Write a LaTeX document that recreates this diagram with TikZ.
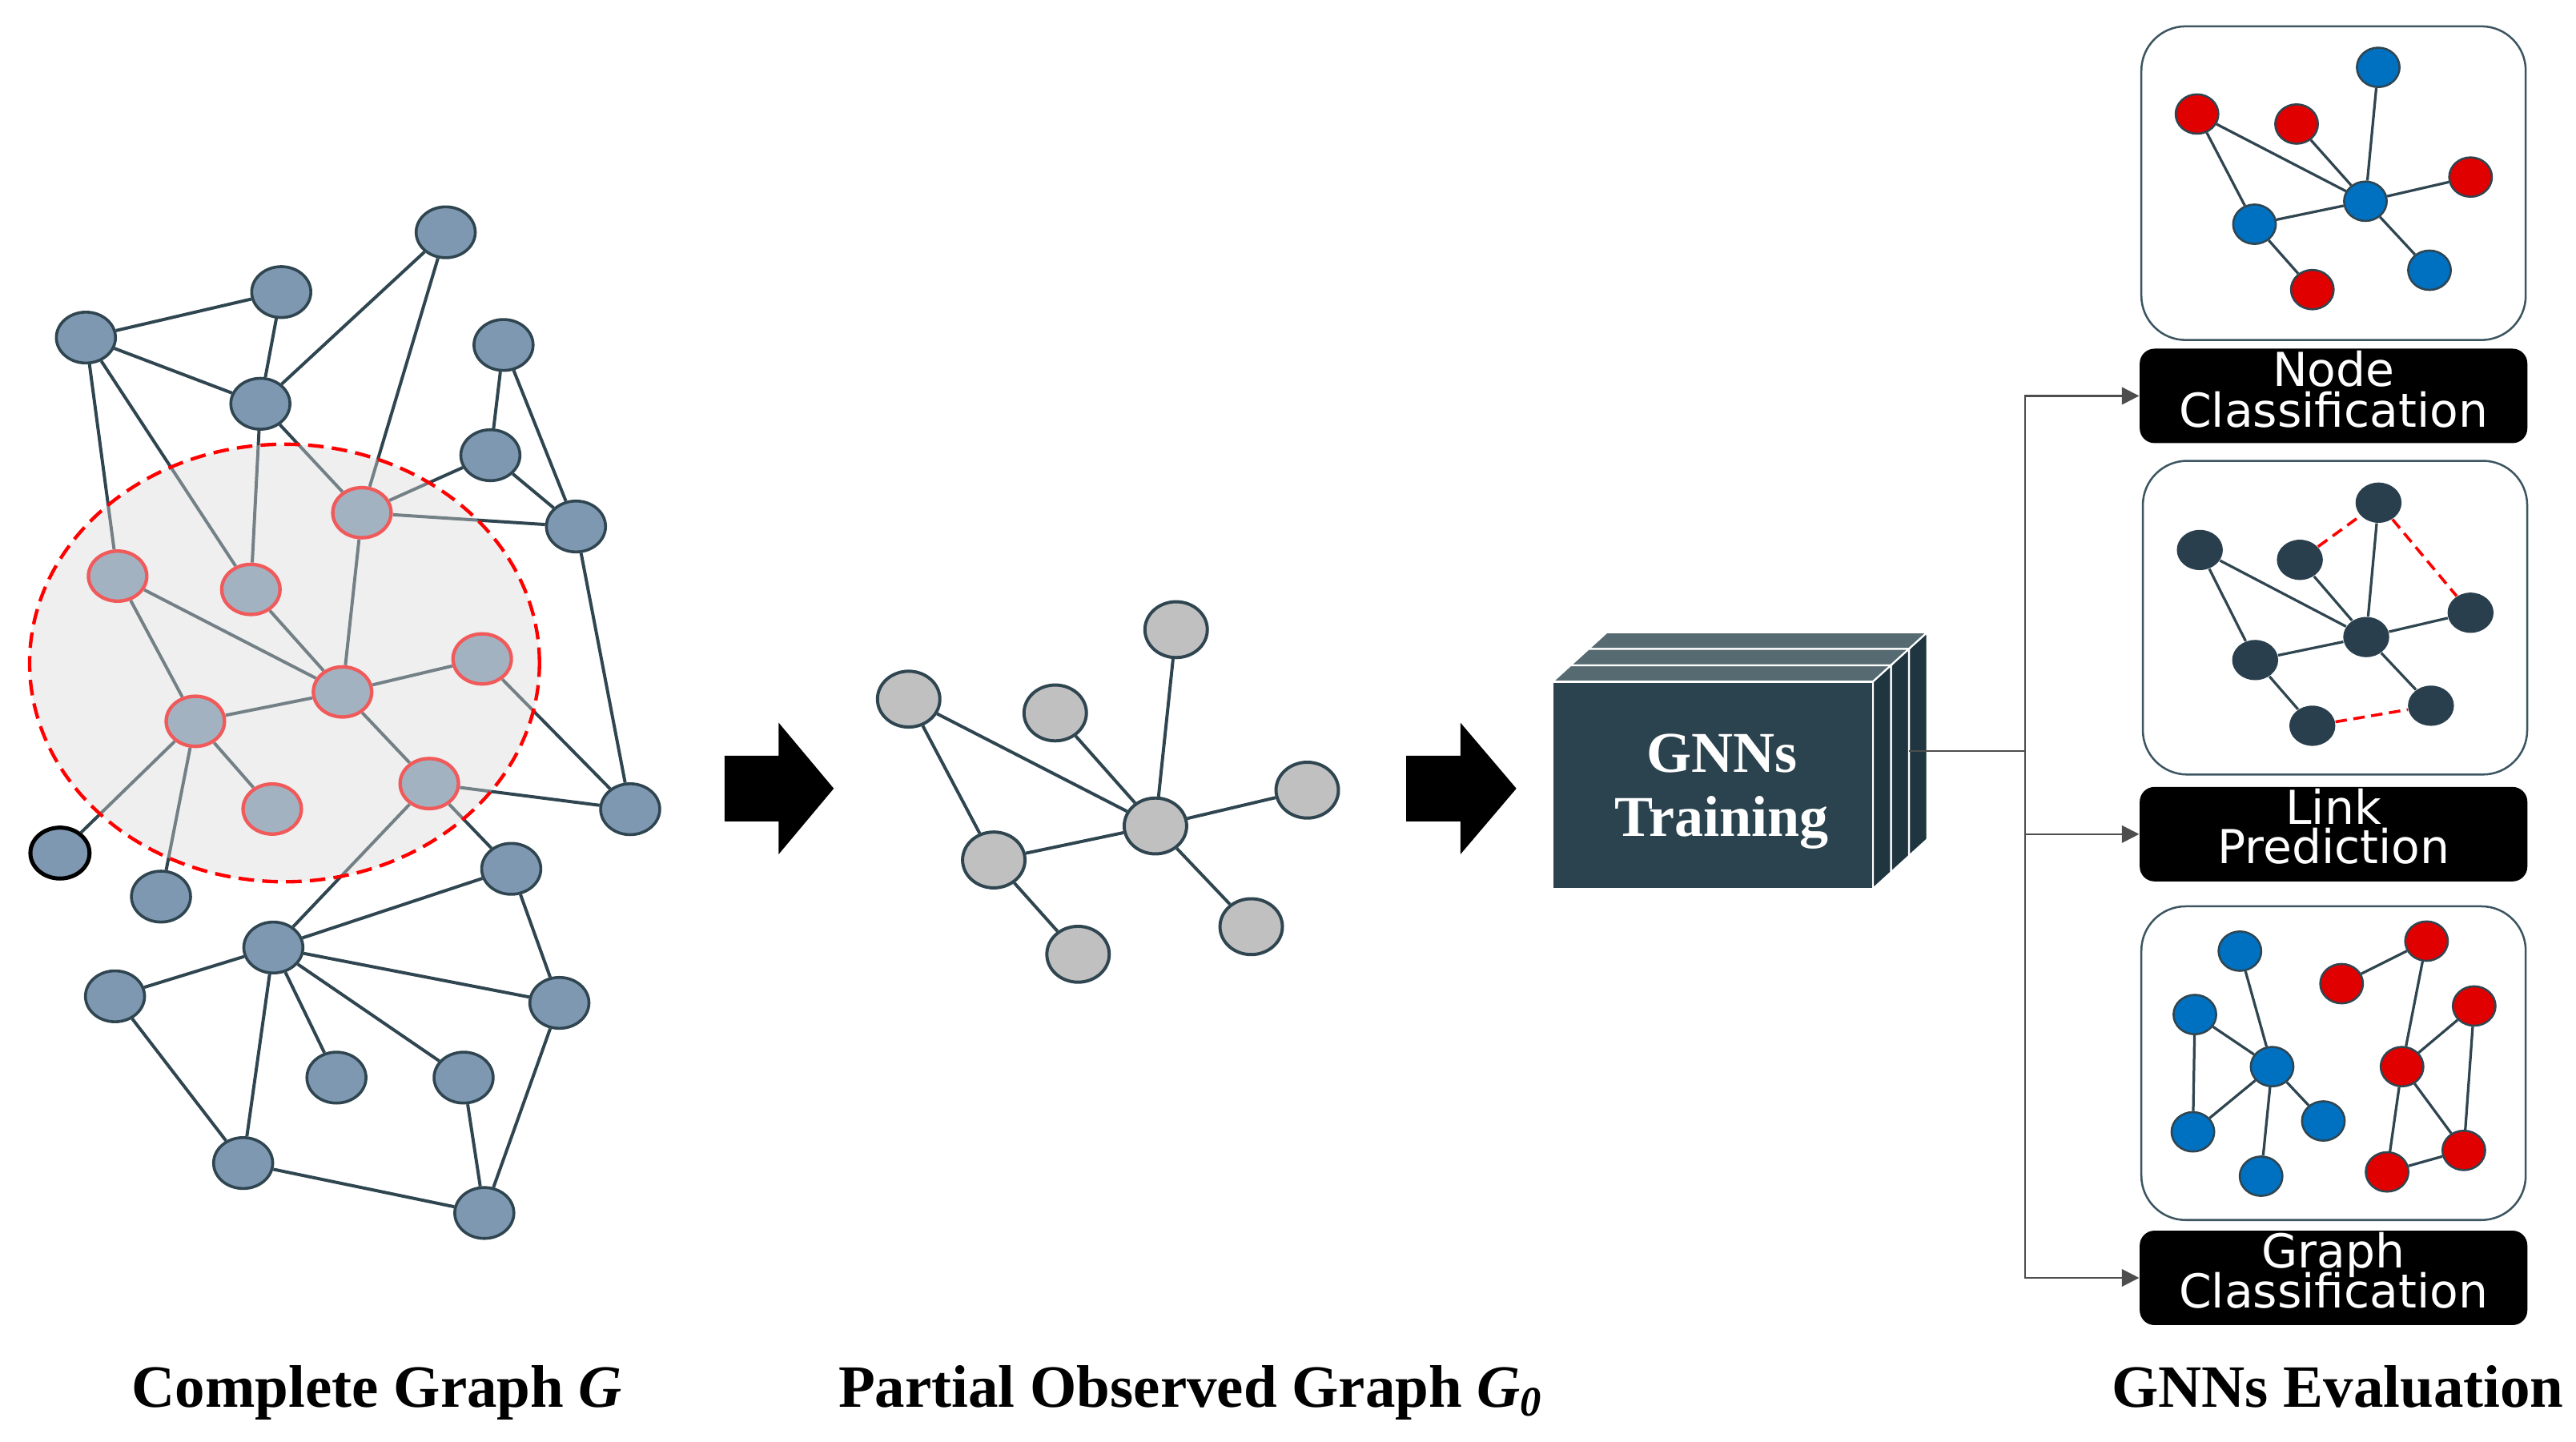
\documentclass[tikz,border=0pt]{standalone}
\usepackage{fontspec}
\setmainfont{Liberation Serif}
\newfontfamily\labfont{DejaVu Sans}
\usetikzlibrary{shapes.geometric,arrows.meta}
\definecolor{cgfill}{HTML}{7F98B2}
\definecolor{cgline}{HTML}{2F4550}
\definecolor{pgfill}{HTML}{C0C0C0}
\definecolor{redn}{HTML}{E00000}
\definecolor{bluen}{HTML}{0070C0}
\definecolor{lpn}{HTML}{2A3F4D}
\definecolor{panelc}{HTML}{3D5561}
\definecolor{ovl}{HTML}{D9D9D9}
\definecolor{ringc}{HTML}{F05A5A}
\definecolor{gfront}{HTML}{2B434E}
\definecolor{gtop}{HTML}{566A72}
\definecolor{gside}{HTML}{1F353F}
\definecolor{connc}{HTML}{4D4D4D}
\begin{document}
\begin{tikzpicture}[x=0.02cm,y=-0.02cm,
  cg/.style={ellipse,minimum width=0.72cm,minimum height=0.62cm,inner sep=0pt,fill=cgfill,draw=cgline,line width=1pt},
  cgin/.style={cg,draw=none},
  cge/.style={draw=cgline,line width=1.1pt},
  redring/.style={draw=ringc,line width=1.2pt},
  reddash/.style={draw=red,line width=1.2pt,dash pattern=on 0.19cm off 0.1cm},
  pg/.style={ellipse,minimum width=0.76cm,minimum height=0.68cm,inner sep=0pt,fill=pgfill,draw=cgline,line width=1.1pt},
  pge/.style={draw=cgline,line width=1.1pt},
  rn/.style={ellipse,minimum width=0.52cm,minimum height=0.48cm,inner sep=0pt,fill=redn,draw=cgline,line width=0.7pt},
  bn/.style={rn,fill=bluen},
  ln/.style={ellipse,minimum width=0.56cm,minimum height=0.49cm,inner sep=0pt,fill=lpn},
  sme/.style={draw=cgline,line width=0.9pt},
  preddash/.style={draw=red,line width=1pt,dash pattern=on 0.14cm off 0.08cm},
  panel/.style={draw=panelc,line width=0.7pt,fill=white,rounded corners=0.54cm,minimum width=4.68cm,minimum height=3.82cm,inner sep=0pt},
  labbox/.style={fill=black,rounded corners=0.18cm,minimum width=4.72cm,minimum height=1.15cm,inner sep=0pt},
  labtext/.style={text=white,anchor=base,inner sep=0pt,font={\labfont\fontsize{16.2pt}{14.2pt}\selectfont}},
  captext/.style={anchor=base west,inner sep=0pt,font={\bfseries\fontsize{20.8pt}{24pt}\selectfont}},
  gnnfront/.style={fill=gfront,draw=white,line width=0.6pt,minimum width=3.9cm,minimum height=2.52cm,inner sep=0pt},
  gnntext/.style={text=white,align=center,inner sep=0pt,font={\bfseries\fontsize{20pt}{22.1pt}\selectfont}},
  conn/.style={draw=connc,line width=0.6pt},
  tip/.style={-{Triangle[length=6pt,width=6pt]}}
]
\useasboundingbox (0,0) rectangle (1568,877.8);
\fill[white] (0,0) rectangle (1568,877.8);

% ---------------- Complete graph G ----------------
\node[cg] (A) at (271.3,141.4) {};
\node[cg] (B) at (171.2,177.8) {};
\node[cg] (C) at (52.3,205.5) {};
\node[cg] (D) at (158.5,245.8) {};
\node[cg] (E) at (306.5,210) {};
\node[cg] (F) at (298.5,277.1) {};
\node[cg] (H) at (350.6,320.5) {};
\node[cgin] (r1) at (220.3,312.1) {};
\node[cgin] (r2) at (71.6,350.7) {};
\node[cgin] (r3) at (152.7,358.8) {};
\node[cgin] (r4) at (208.5,421.2) {};
\node[cgin] (r5) at (293.5,401.1) {};
\node[cgin] (r6) at (118.9,439.1) {};
\node[cgin] (r7) at (165.7,492.5) {};
\node[cgin] (r8) at (261.3,477) {};
\node[cg] (I) at (383.6,492.6) {};
\node[cg,draw=black,line width=1.4pt] (J) at (36.5,519.3) {};
\node[cg] (K) at (98,545.8) {};
\node[cg] (L) at (311.2,528.9) {};
\node[cg] (M) at (166.4,576.8) {};
\node[cg] (N) at (70,606.5) {};
\node[cg] (O) at (340.5,610.5) {};
\node[cg] (P) at (204.8,656) {};
\node[cg] (Q) at (282.2,656) {};
\node[cg] (R) at (148,708) {};
\node[cg] (S) at (294.8,738.4) {};

\foreach \a/\b in {C/B,C/D,C/r2,C/r3,B/D,D/A,A/r1,D/r3,D/r1,E/F,E/H,F/r1,F/H,r1/H,H/I,
  r1/r4,r2/r4,r2/r6,r3/r4,r4/r6,r4/r5,r4/r8,r5/I,r6/r7,r6/J,r6/K,r8/I,r8/L,r8/M,
  L/M,L/O,M/N,M/O,M/P,M/Q,M/R,N/R,R/S,Q/S,O/S}
  \draw[cge] (\a) -- (\b);

\fill[ovl,fill opacity=0.4] (173.2,403.6) ellipse [x radius=3.104cm, y radius=2.664cm];
\foreach \n in {r1,r2,r3,r4,r5,r6,r7,r8}
  \draw[redring] (\n.center) ellipse [x radius=0.355cm, y radius=0.305cm];
\draw[reddash] (173.2,403.6) ellipse [x radius=3.104cm, y radius=2.664cm];

% ---------------- arrows ----------------
\fill[black] (441,460) -- (474,460) -- (474,440) -- (507.5,480) -- (474,520) -- (474,500) -- (441,500) -- cycle;
\fill[black] (856,460) -- (889,460) -- (889,440) -- (923,480) -- (889,520) -- (889,500) -- (856,500) -- cycle;

% ---------------- Partial observed graph ----------------
\node[pg] (p1) at (553.1,425.6) {};
\node[pg] (p2) at (642.3,434) {};
\node[pg] (p3) at (715.9,383.3) {};
\node[pg] (p4) at (795.7,481) {};
\node[pg] (p5) at (703.3,502.8) {};
\node[pg] (p6) at (604.9,523.5) {};
\node[pg] (p7) at (656.2,580.9) {};
\node[pg] (p8) at (761.6,564.1) {};
\foreach \a/\b in {p1/p5,p1/p6,p2/p5,p3/p5,p4/p5,p5/p6,p5/p8,p6/p7}
  \draw[pge] (\a) -- (\b);

% ---------------- GNN training box ----------------
\foreach \i in {2,1} {
  \begin{scope}[shift={(11*\i,-10*\i)}]
    \filldraw[fill=gfront,draw=white,line width=0.6pt] (945,415) rectangle (1140,541);
    \filldraw[fill=gtop,draw=white,line width=0.6pt] (945,415) -- (1140,415) -- (1151,405) -- (956,405) -- cycle;
    \filldraw[fill=gside,draw=white,line width=0.6pt] (1140,415) -- (1151,405) -- (1151,531) -- (1140,541) -- cycle;
  \end{scope}
}
\filldraw[fill=gtop,draw=white,line width=0.6pt] (945,415) -- (1140,415) -- (1151,405) -- (956,405) -- cycle;
\filldraw[fill=gside,draw=white,line width=0.6pt] (1140,415) -- (1151,405) -- (1151,531) -- (1140,541) -- cycle;
\node[gnnfront] (gnn) at (1042.5,478) {};
\node[gnntext] (gnnt) at (1048,481.7) {GNNs\\Training};

% ---------------- Evaluation panels ----------------
\node[panel] (pn1) at (1420.4,111.5) {};
\node[panel] (pn2) at (1421.3,376) {};
\node[panel] (pn3) at (1420.4,647.2) {};

\node[labbox] (nc) at (1420.4,241) {};
\node[labbox] (lp) at (1420.4,507.8) {};
\node[labbox] (gc) at (1420.4,777.9) {};
\node[labtext] (nct1) at (1420.4,235.4) {Node};
\node[labtext] (nct2) at (1420.4,259.8) {Classification};
\node[labtext] (lpt1) at (1420.4,501.8) {Link};
\node[labtext] (lpt2) at (1420.4,525.6) {Prediction};
\node[labtext] (gct1) at (1420.4,771.7) {Graph};
\node[labtext] (gct2) at (1420.4,796.2) {Classification};

% panel 1: node classification
\node[bn] (a1) at (1447.6,41) {};
\node[rn] (a2) at (1337.3,69.4) {};
\node[rn] (a3) at (1397.9,75.5) {};
\node[rn] (a4) at (1503.8,107.8) {};
\node[bn] (a5) at (1439.8,122.5) {};
\node[bn] (a6) at (1372.3,136.5) {};
\node[bn] (a7) at (1478.8,164.5) {};
\node[rn] (a8) at (1407.5,176.3) {};
\foreach \a/\b in {a2/a5,a2/a6,a3/a5,a1/a5,a4/a5,a5/a6,a5/a7,a6/a8}
  \draw[sme] (\a) -- (\b);

% panel 2: link prediction
\node[ln] (m1) at (1447.8,306) {};
\node[ln] (m2) at (1339,334.8) {};
\node[ln] (m3) at (1399.9,340.8) {};
\node[ln] (m4) at (1503.8,373) {};
\node[ln] (m5) at (1440.3,387.8) {};
\node[ln] (m6) at (1372.7,401.8) {};
\node[ln] (m7) at (1479.7,429.6) {};
\node[ln] (m8) at (1407.5,441.8) {};
\foreach \a/\b in {m2/m5,m2/m6,m3/m5,m1/m5,m4/m5,m5/m6,m5/m7,m6/m8}
  \draw[sme] (\a) -- (\b);
\foreach \a/\b in {m3/m1,m1/m4,m8/m7}
  \draw[preddash] (\a) -- (\b);

% panel 3: graph classification
\node[bn] (b1) at (1363.4,579) {};
\node[bn] (b2) at (1336,617.6) {};
\node[bn] (b3) at (1383,649.3) {};
\node[bn] (b4) at (1334.8,689) {};
\node[bn] (b5) at (1414.2,682.4) {};
\node[bn] (b6) at (1376.3,716) {};
\node[rn] (q1) at (1477,572.9) {};
\node[rn] (q2) at (1425.3,598.8) {};
\node[rn] (q3) at (1506,612.4) {};
\node[rn] (q4) at (1462.1,649.3) {};
\node[rn] (q5) at (1499.7,700.3) {};
\node[rn] (q6) at (1453,713.4) {};
\foreach \a/\b in {b1/b3,b2/b3,b2/b4,b3/b4,b3/b5,b3/b6,q2/q1,q1/q4,q3/q4,q3/q5,q4/q5,q4/q6,q6/q5}
  \draw[sme] (\a) -- (\b);

% ---------------- connectors ----------------
\coordinate (gout) at (1162,457.3);
\coordinate (split) at (1232.6,457.3);
\draw[conn] (gout) -- (split);
\draw[conn,tip] (split) |- (nc.west);
\draw[conn,tip] (split) |- (lp.west);
\draw[conn,tip] (split) |- (gc.west);

% ---------------- captions ----------------
\node[captext] (capG) at (80,856.5) {Complete Graph \textit{G}};
\node[captext] (capP) at (510,856.5) {Partial Observed Graph \textit{G}\textsubscript{\textit{0}}};
\node[captext] (capE) at (1285,856.5) {GNNs Evaluation};
\end{tikzpicture}
\end{document}
